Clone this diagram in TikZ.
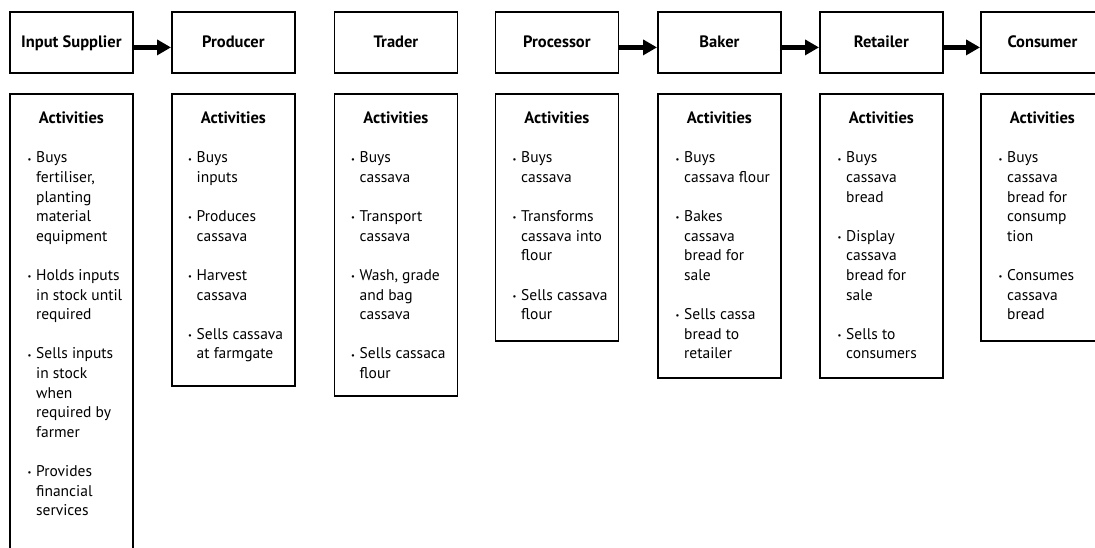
\documentclass[tikz,border=0pt]{standalone}
\usepackage{fontspec}
\setmainfont{PT Sans}
\usetikzlibrary{arrows.meta}
% bullet marker and hanging indent for the activity lists
\newcommand\bul{\makebox[8.5pt][l]{\raisebox{0.8pt}{\fontsize{8.5}{8.5}\selectfont\textbullet}}}
\newcommand\ind{\hspace*{8.5pt}}

\begin{document}
\begin{tikzpicture}[x=1pt,y=-1pt,
  stage/.style={draw, line width=1.8pt, minimum width=123pt, minimum height=61pt,
    inner sep=0pt, anchor=north west, text height=12pt, text depth=2pt,
    font=\fontsize{16.5}{19}\selectfont\bfseries},
  actbox/.style={draw, line width=1.8pt, minimum width=123pt, inner sep=0pt, anchor=north west},
  acthead/.style={anchor=base, inner sep=0pt, font=\fontsize{16.5}{19}\selectfont\bfseries},
  actlist/.style={anchor=north west, inner sep=0pt, align=left,
    font=\fontsize{15.5}{19.6}\selectfont},
  flow/.style={line width=5.5pt, -{Triangle[length=14pt,width=15pt]}}
]
\fill[white] (0,0) rectangle (1095,547);
\useasboundingbox (0,0) rectangle (1095,547);
\clip (0,0) rectangle (1095,547);

% stage boxes along the chain
\node[stage] (s1) at (9,11)     {Input Supplier};
\node[stage] (s2) at (171,11)   {Producer};
\node[stage] (s3) at (333.5,11) {Trader};
\node[stage] (s4) at (494.5,11) {Processor};
\node[stage] (s5) at (657,11)   {Baker};
\node[stage] (s6) at (819,11)   {Retailer};
\node[stage] (s7) at (980,11)   {Consumer};

% flows between stages
\draw[flow] ([yshift=-5pt]s1.east) -- ([yshift=-5pt]s2.west);
\draw[flow] ([yshift=-5pt]s4.east) -- ([yshift=-5pt]s5.west);
\draw[flow] ([yshift=-5pt]s5.east) -- ([yshift=-5pt]s6.west);
\draw[flow] ([yshift=-5pt]s6.east) -- ([yshift=-5pt]s7.west);

% activity boxes
\node[actbox, minimum height=480pt] (a1) at (9,93)     {};
\node[actbox, minimum height=292pt] (a2) at (171,93)   {};
\node[actbox, minimum height=302pt] (a3) at (333.5,93) {};
\node[actbox, minimum height=247pt] (a4) at (494.5,93) {};
\node[actbox, minimum height=284pt] (a5) at (657,93)   {};
\node[actbox, minimum height=284pt] (a6) at (819,93)   {};
\node[actbox, minimum height=247pt] (a7) at (980,93)   {};

\foreach \i in {1,...,7}{
  \node[acthead] (h\i) at ([yshift=-30.5pt]a\i.north) {Activities};
}

\node[actlist] (l1) at ([xshift=18.5pt,yshift=-56pt]a1.north west) {%
\bul\strut Buys\\ \ind fertiliser,\\ \ind planting\\ \ind material\\ \ind equipment\\[19.6pt]
\bul Holds inputs\\ \ind in stock until\\ \ind required\\[19.6pt]
\bul Sells inputs\\ \ind in stock\\ \ind when\\ \ind required by\\ \ind farmer\\[19.6pt]
\bul Provides\\ \ind financial\\ \ind services};

\node[actlist] (l2) at ([xshift=17pt,yshift=-56pt]a2.north west) {%
\bul\strut Buys\\ \ind inputs\\[19.6pt]
\bul Produces\\ \ind cassava\\[19.6pt]
\bul Harvest\\ \ind cassava\\[19.6pt]
\bul Sells cassava\\ \ind at farmgate};

\node[actlist] (l3) at ([xshift=17.5pt,yshift=-56pt]a3.north west) {%
\bul\strut Buys\\ \ind cassava\\[19.6pt]
\bul Transport\\ \ind cassava\\[19.6pt]
\bul Wash, grade\\ \ind and bag\\ \ind cassava\\[19.6pt]
\bul Sells cassaca\\ \ind flour};

\node[actlist] (l4) at ([xshift=18pt,yshift=-56pt]a4.north west) {%
\bul\strut Buys\\ \ind cassava\\[19.6pt]
\bul Transforms\\ \ind cassava into\\ \ind flour\\[19.6pt]
\bul Sells cassava\\ \ind flour};

\node[actlist] (l5) at ([xshift=18.5pt,yshift=-56pt]a5.north west) {%
\bul\strut Buys\\ \ind cassava flour\\[19.6pt]
\bul Bakes\\ \ind cassava\\ \ind bread for\\ \ind sale\\[19.6pt]
\bul Sells cassa\\ \ind bread to\\ \ind retailer};

\node[actlist] (l6) at ([xshift=18.5pt,yshift=-56pt]a6.north west) {%
\bul\strut Buys\\ \ind cassava\\ \ind bread\\[19.6pt]
\bul Display\\ \ind cassava\\ \ind bread for\\ \ind sale\\[19.6pt]
\bul Sells to\\ \ind consumers};

\node[actlist] (l7) at ([xshift=18.5pt,yshift=-56pt]a7.north west) {%
\bul\strut Buys\\ \ind cassava\\ \ind bread for\\ \ind consump\\ \ind tion\\[19.6pt]
\bul Consumes\\ \ind cassava\\ \ind bread};
\end{tikzpicture}
\end{document}
